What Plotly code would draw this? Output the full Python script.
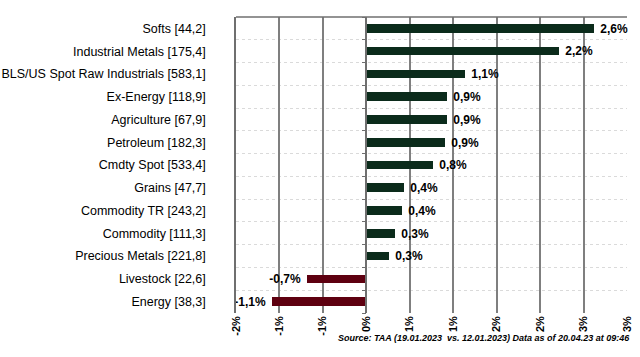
import plotly.graph_objects as go

categories = ["Softs [44,2]", "Industrial Metals [175,4]", "BLS/US Spot Raw Industrials [583,1]",
              "Ex-Energy [118,9]", "Agriculture [67,9]", "Petroleum [182,3]", "Cmdty Spot [533,4]",
              "Grains [47,7]", "Commodity TR [243,2]", "Commodity [111,3]", "Precious Metals [221,8]",
              "Livestock [22,6]", "Energy [38,3]"]
values = [2.62, 2.22, 1.14, 0.93, 0.93, 0.91, 0.77, 0.43, 0.41, 0.33, 0.26, -0.68, -1.08]
x_tick_vals = [-1.5, -1.0, -0.5, 0.0, 0.5, 1.0, 1.5, 2.0, 2.5, 3.0]
x_tick_text = ["-2%", "-1%", "-1%", "0%", "1%", "1%", "2%", "2%", "3%", "3%"]
source_text = "Source: TAA (19.01.2023  vs. 12.01.2023) Data as of 20.04.23 at 09:46"

GREEN = "#0b2b1b"
RED = "#5e0010"

n = len(categories)
ypos = list(range(n))
labels = [(" " + f"{v:.1f}%".replace(".", ",")) if v >= 0 else (f"{v:.1f}%".replace(".", ",") + " ")
          for v in values]
colors = [GREEN if v >= 0 else RED for v in values]
boundaries = [i - 0.5 for i in range(n + 1)]

fig = go.Figure()
fig.add_trace(go.Bar(
    x=values, y=ypos, orientation="h", width=0.38,
    marker=dict(color=colors, line=dict(width=0)),
    text=labels, textposition="outside", cliponaxis=False, constraintext="none",
    textfont=dict(family="Liberation Sans, Arial", size=12, color="black", weight="bold"),
    hoverinfo="skip", showlegend=False,
))
# invisible trace to carry the zero-crossing axis with tick marks
fig.add_trace(go.Scatter(x=[0], y=[0], yaxis="y2", mode="markers",
                         marker=dict(opacity=0), showlegend=False, hoverinfo="skip"))

fig.update_layout(
    width=640, height=357,
    margin=dict(l=236, r=13, t=17, b=44),
    paper_bgcolor="white", plot_bgcolor="white",
    font=dict(family="Liberation Sans, Arial", color="black"),
    bargap=0,
    xaxis=dict(
        range=[-1.5, 3.0], tickvals=x_tick_vals, ticktext=x_tick_text,
        tickangle=-90, tickfont=dict(size=11, weight="bold"),
        showgrid=True, gridcolor="#7f7f7f", gridwidth=1.5,
        zeroline=False, showline=False, ticks="", fixedrange=True, automargin=False,
    ),
    yaxis=dict(
        range=[n - 0.5, -0.5], tickvals=ypos, ticktext=categories,
        tickfont=dict(size=12.5), showgrid=False, zeroline=False,
        showline=True, linecolor="#6f6f6f", linewidth=1.5, ticks="",
        ticklabelstandoff=26, fixedrange=True, automargin=False,
        minor=dict(tickvals=boundaries, showgrid=True, gridcolor="#dadada",
                   griddash="dot", gridwidth=1),
    ),
    yaxis2=dict(
        overlaying="y", anchor="free", position=1.5 / 4.5, automargin=False,
        range=[n - 0.5, -0.5], tickvals=boundaries, showticklabels=False,
        ticks="outside", ticklen=4, tickcolor="#6f6f6f", tickwidth=1,
        showgrid=False, zeroline=False, showline=True, linecolor="#6f6f6f", linewidth=1.5,
    ),
    shapes=[dict(type="line", xref="paper", yref="paper", x0=0, x1=1, y0=1, y1=1,
                 line=dict(color="#6f6f6f", width=1.5))],
    annotations=[dict(text=source_text, xref="paper", yref="paper", x=1.013, y=-0.085,
                      xanchor="right", yanchor="middle", showarrow=False,
                      font=dict(family="Liberation Sans, Arial", size=9,
                                style="italic", weight="bold", color="black"))],
)

fig.write_html("out.html", config={"displayModeBar": False},
               post_script="document.body.style.margin='0';document.body.style.overflow='hidden';")
